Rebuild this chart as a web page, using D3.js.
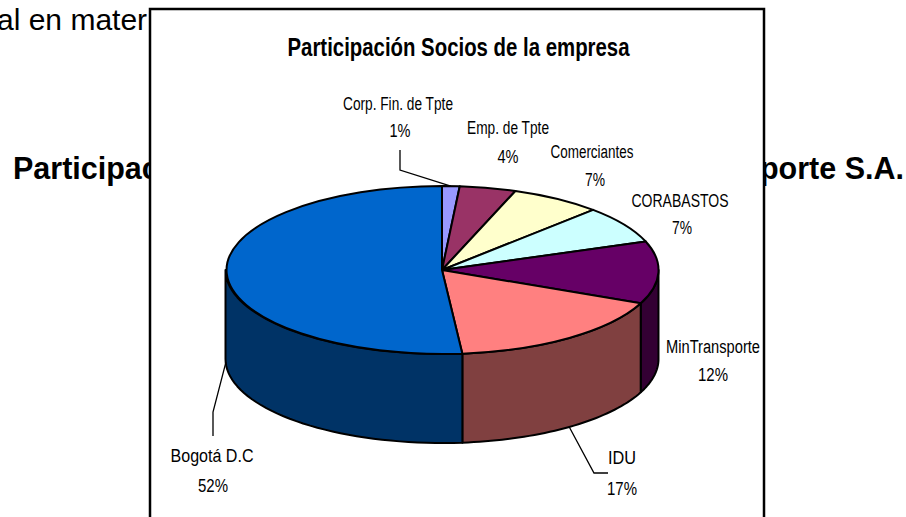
<!DOCTYPE html>
<html>
<head>
<meta charset="utf-8">
<script src="https://cdn.jsdelivr.net/npm/d3@7"></script>
<style>
  html, body { margin: 0; padding: 0; background: #fff; overflow: hidden; }
  text { font-family: "Liberation Sans", Arial, sans-serif; fill: #000; }
</style>
</head>
<body>
<div id="chart"></div>
<script>
const width = 906;
const height = 517;

// chart values
const socios = ["Corp. Fin. de Tpte", "Emp. de Tpte", "Comerciantes", "CORABASTOS", "MinTransporte", "IDU", "Bogotá D.C"];
const valores = [1.3, 4.2, 6.8, 7.2, 12.0, 17.0, 51.5];
const colores = ["#9999ff", "#993366", "#ffffcc", "#ccffff", "#660066", "#ff8080", "#0066cc"];
const coloresLado = ["#4d4d80", "#4d1a33", "#808066", "#668080", "#330033", "#804040", "#003366"];

// layout of the labels, same order as socios: [name x, name baseline, % x, % baseline, name width, % width]
const etiquetas = [
  [398, 110, 400, 137, 110, 21],
  [508, 134, 508, 163, 82, 21],
  [592, 158, 595, 186, 83, 20],
  [680, 207, 682, 234, 97, 20],
  [713, 353, 713, 381, 94, 30],
  [622, 464, 622, 495, 28, 30],
  [212, 462, 213, 492, 83, 30]
];

const cx = 442, cy = 270, rx = 216.5, ry = 84, depth = 89;

const svg = d3.select("#chart").append("svg")
  .attr("width", width)
  .attr("height", height)
  .style("display", "block");

// text of the page behind the chart frame
const defs = svg.append("defs");
defs.append("clipPath").attr("id", "izq").append("rect")
  .attr("x", 0).attr("y", 0).attr("width", 149).attr("height", height);
defs.append("clipPath").attr("id", "der").append("rect")
  .attr("x", 765).attr("y", 0).attr("width", 141).attr("height", height);

svg.append("text").attr("x", -3).attr("y", 30)
  .attr("clip-path", "url(#izq)")
  .style("font-size", "30px")
  .text("al en mater");

svg.append("text").attr("x", 13).attr("y", 178.5)
  .attr("clip-path", "url(#izq)")
  .style("font-size", "30.5px").style("font-weight", "bold")
  .text("Participac");

svg.append("text").attr("x", 904).attr("y", 178.5)
  .attr("clip-path", "url(#der)")
  .attr("text-anchor", "end")
  .style("font-size", "30.5px").style("font-weight", "bold")
  .text("sporte S.A.");

// chart frame, its bottom edge falls outside the window
svg.append("rect")
  .attr("x", 150).attr("y", 9)
  .attr("width", 614).attr("height", height)
  .attr("fill", "#fff")
  .attr("stroke", "#000")
  .attr("stroke-width", 2.5);

svg.append("text")
  .attr("x", 458.5).attr("y", 56)
  .attr("text-anchor", "middle")
  .attr("textLength", 342)
  .attr("lengthAdjust", "spacingAndGlyphs")
  .style("font-size", "26px").style("font-weight", "bold")
  .text("Participación Socios de la empresa");

const pie = d3.pie().sort(null).startAngle(0).endAngle(2 * Math.PI);
const arcos = pie(valores);

// angle runs clockwise from the top, y squashed by the tilt of the pie
const px = a => cx + rx * Math.sin(a);
const py = (a, z = 0) => cy - ry * Math.cos(a) + z;

// walls: only the front half of the rim is seen
const linea = d3.line();
const frente = arcos
  .map((d, i) => ({
    i,
    a0: Math.max(d.startAngle, Math.PI / 2),
    a1: Math.min(d.endAngle, 3 * Math.PI / 2)
  }))
  .filter(d => d.a1 > d.a0);

svg.append("g")
  .selectAll("path")
  .data(frente)
  .join("path")
  .attr("fill", d => coloresLado[d.i])
  .attr("stroke", "#000")
  .attr("stroke-width", 2)
  .attr("stroke-linejoin", "round")
  .attr("d", d => {
    const pasos = d3.range(0, 41).map(k => d.a0 + (d.a1 - d.a0) * k / 40);
    const arriba = pasos.map(a => [px(a), py(a)]);
    const abajo = pasos.slice().reverse().map(a => [px(a), py(a, depth)]);
    return linea(arriba.concat(abajo)) + "Z";
  });

// top of the pie: unit arcs stretched to the ellipse
const arco = d3.arc().innerRadius(0).outerRadius(1);

svg.append("g")
  .attr("transform", `translate(${cx},${cy}) scale(${rx},${ry})`)
  .selectAll("path")
  .data(arcos)
  .join("path")
  .attr("fill", (d, i) => colores[i])
  .attr("stroke", "#000")
  .attr("stroke-width", 2)
  .attr("stroke-linejoin", "round")
  .attr("vector-effect", "non-scaling-stroke")
  .attr("d", arco);

// leader lines, each starting on the rim of its slice
const guias = [
  { i: 0, z: 0, puntos: [[400, 170], [400, 150]] },
  { i: 5, z: depth, puntos: [[594, 473], [608, 473]] },
  { i: 6, z: depth, puntos: [[213, 412], [213, 436]] }
];

svg.append("g")
  .selectAll("path")
  .data(guias)
  .join("path")
  .attr("fill", "none")
  .attr("stroke", "#000")
  .attr("stroke-width", 1.3)
  .attr("d", g => {
    const a = (arcos[g.i].startAngle + arcos[g.i].endAngle) / 2;
    return linea([[px(a), py(a, g.z)]].concat(g.puntos));
  });

// labels: name and percent on two lines, squeezed like the original
const rotulos = svg.append("g")
  .selectAll("g")
  .data(socios.map((s, i) => ({ s, v: valores[i], e: etiquetas[i] })))
  .join("g")
  .style("font-size", "18px");

rotulos.append("text")
  .attr("x", d => d.e[0]).attr("y", d => d.e[1])
  .attr("text-anchor", "middle")
  .attr("textLength", d => d.e[4])
  .attr("lengthAdjust", "spacingAndGlyphs")
  .text(d => d.s);

rotulos.append("text")
  .attr("x", d => d.e[2]).attr("y", d => d.e[3])
  .attr("text-anchor", "middle")
  .attr("textLength", d => d.e[5])
  .attr("lengthAdjust", "spacingAndGlyphs")
  .text(d => Math.round(d.v) + "%");
</script>
</body>
</html>
